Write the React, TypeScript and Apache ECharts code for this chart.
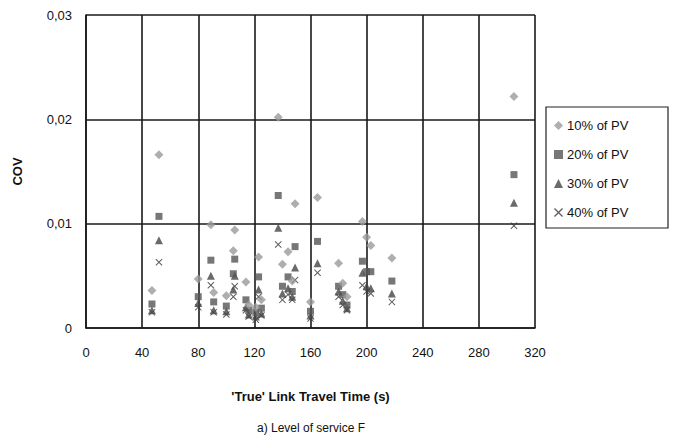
import React, { useEffect, useRef } from "react";
import * as echarts from "echarts";

const linkTimes = [47, 52, 80, 89, 91, 100, 106, 105, 114, 116, 123, 121, 125, 137, 140, 144, 149, 147, 160, 165, 180, 183, 186, 197, 200, 203, 218, 305];
const pv10 = [0.0036, 0.0166, 0.0047, 0.0099, 0.0034, 0.0031, 0.0094, 0.0074, 0.0044, 0.0022, 0.0068, 0.0020, 0.0027, 0.0202, 0.0061, 0.0073, 0.0119, 0.0045, 0.0025, 0.0125, 0.0062, 0.0043, 0.0030, 0.0102, 0.0087, 0.0079, 0.0067, 0.0222];
const pv20 = [0.0023, 0.0107, 0.0030, 0.0065, 0.0025, 0.0021, 0.0066, 0.0052, 0.0027, 0.0017, 0.0049, 0.0015, 0.0019, 0.0127, 0.0040, 0.0049, 0.0078, 0.0035, 0.0016, 0.0083, 0.0040, 0.0032, 0.0022, 0.0064, 0.0054, 0.0054, 0.0045, 0.0147];
const pv30 = [0.0017, 0.0084, 0.0024, 0.0050, 0.0017, 0.0016, 0.0050, 0.0037, 0.0020, 0.0013, 0.0037, 0.0011, 0.0014, 0.0096, 0.0033, 0.0038, 0.0058, 0.0030, 0.0012, 0.0062, 0.0035, 0.0026, 0.0019, 0.0053, 0.0040, 0.0038, 0.0033, 0.0120];
const pv40 = [0.0015, 0.0063, 0.0020, 0.0041, 0.0015, 0.0013, 0.0040, 0.0030, 0.0017, 0.0011, 0.0030, 0.0008, 0.0012, 0.0080, 0.0027, 0.0032, 0.0046, 0.0027, 0.0009, 0.0053, 0.0030, 0.0022, 0.0017, 0.0041, 0.0035, 0.0033, 0.0025, 0.0098];

const seriesNames = ["10% of PV", "20% of PV", "30% of PV", "40% of PV"];
const xTicks = [0, 40, 80, 120, 160, 200, 240, 280, 320];
const yTicks = [0, 0.01, 0.02, 0.03];

const X_SYMBOL = "path://M1,0 L5,4 L9,0 L10,1 L6,5 L10,9 L9,10 L5,6 L1,10 L0,9 L4,5 L0,1 Z";

export default function App() {
  const ref = useRef<HTMLDivElement>(null);
  useEffect(() => {
    if (!ref.current) return;
    const chart = echarts.init(ref.current, undefined, { renderer: "svg" });
    const font = "Liberation Sans, Arial, sans-serif";
    const pair = (vals: number[]) => vals.map((v, i) => [linkTimes[i], v]);
    const styles = [
      { symbol: "diamond", size: 9, color: "#9a9a9a", data: pair(pv10) },
      { symbol: "rect", size: 7, color: "#555555", data: pair(pv20) },
      { symbol: "triangle", size: 8, color: "#454545", data: pair(pv30) },
      { symbol: X_SYMBOL, size: 7, color: "#333333", data: pair(pv40) },
    ];
    chart.setOption({
      animation: false,
      textStyle: { fontFamily: font },
      grid: { left: 86, right: 140, top: 15, bottom: 114 },
      xAxis: {
        type: "value",
        min: xTicks[0],
        max: xTicks[xTicks.length - 1],
        interval: 40,
        name: "'True' Link Travel Time (s)",
        nameLocation: "middle",
        nameGap: 62,
        nameTextStyle: { fontFamily: font, fontSize: 13, fontWeight: "bold", color: "#111" },
        axisLine: { show: true, lineStyle: { color: "#1a1a1a", width: 1.6 } },
        axisTick: { show: false },
        axisLabel: { fontFamily: font, fontSize: 13, color: "#111", margin: 18 },
        splitLine: { show: true, lineStyle: { color: "#1a1a1a", width: 1.6 } },
      },
      yAxis: {
        type: "value",
        min: yTicks[0],
        max: yTicks[yTicks.length - 1],
        interval: 0.01,
        name: "COV",
        nameLocation: "middle",
        nameGap: 62,
        nameRotate: 90,
        nameTextStyle: { fontFamily: font, fontSize: 13, fontWeight: "bold", color: "#111" },
        axisLine: { show: true, lineStyle: { color: "#1a1a1a", width: 1.6 } },
        axisTick: { show: false },
        axisLabel: {
          fontFamily: font,
          fontSize: 13,
          color: "#111",
          margin: 14,
          formatter: (v: number) => (v === 0 ? "0" : v.toFixed(2).replace(".", ",")),
        },
        splitLine: { show: true, lineStyle: { color: "#1a1a1a", width: 1.6 } },
      },
      legend: {
        orient: "vertical",
        left: 549,
        top: 114,
        itemWidth: 9,
        itemHeight: 9,
        itemGap: 16,
        textStyle: { fontFamily: font, fontSize: 13, color: "#111", padding: [0, 0, 0, -1] },
        data: seriesNames.map((n, i) => ({ name: n, icon: styles[i].symbol })),
      },
      graphic: [
        {
          type: "rect",
          shape: { x: 546, y: 107, width: 122, height: 121 },
          style: { fill: "none", stroke: "#222", lineWidth: 1.2 },
          silent: true,
        },
        {
          type: "text",
          x: 311,
          y: 428,
          style: {
            text: "a) Level of service F",
            textAlign: "center",
            textVerticalAlign: "middle",
            font: "12px Liberation Sans, Arial, sans-serif",
            fill: "#111",
          },
        },
      ],
      series: styles.map((s, i) => ({
        type: "scatter",
        name: seriesNames[i],
        symbol: s.symbol,
        symbolSize: s.size,
        itemStyle: { color: s.color },
        data: s.data,
        z: 10 - i,
      })),
    });
    return () => chart.dispose();
  }, []);
  return <div ref={ref} style={{ position: "fixed", left: 0, top: 0, width: 675, height: 442, background: "#fff" }} />;
}
